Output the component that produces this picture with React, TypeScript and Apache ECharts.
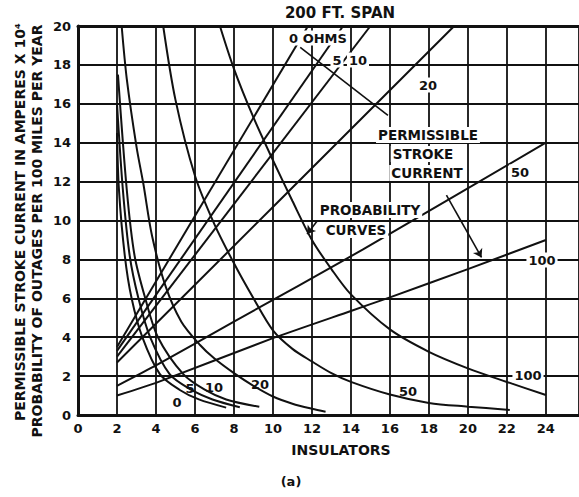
import React, { useEffect, useRef } from "react";
import * as echarts from "echarts";

// ---- axis ticks ----
const xTickValues = [0, 2, 4, 6, 8, 10, 12, 14, 16, 18, 20, 22, 24];
const yTickValues = [0, 2, 4, 6, 8, 10, 12, 14, 16, 18, 20];

// ---- permissible stroke current (amperes x 10^4) vs insulators ----
const psc0 = [[2, 3.5], [11.8, 20]];
const psc5 = [[2, 3.3], [13.6, 20]];
const psc10 = [[2, 3.0], [15.0, 20]];
const psc20 = [[2, 2.7], [10.36, 11.05], [19.3, 20]];
const psc50 = [[2, 1.5], [4, 2.55], [8, 4.8], [14.6, 8.5], [24, 14.0]];
const psc100 = [[2, 1.0], [4, 1.65], [10, 3.95], [14, 5.35], [16, 6.05], [20, 7.5], [24, 9.0]];

// ---- probability of outages per 100 miles per year ----
const prob0 = [[2, 14.5], [2.1, 11.6], [2.4, 8.2], [2.75, 6], [3.3, 4], [4.2, 2.1], [5.2, 1.3], [6.2, 0.8], [7.6, 0.38]];
const prob5 = [[2, 16], [2.3, 11.6], [2.65, 8.2], [3.1, 6], [3.7, 4], [4.7, 2.1], [5.8, 1.3], [6.9, 0.8], [8.3, 0.4]];
const prob10 = [[2.05, 17.5], [2.5, 11.6], [2.9, 8.2], [3.45, 6], [4.1, 4], [5.4, 2.1], [6.5, 1.3], [7.6, 0.8], [9.3, 0.42]];
const prob20 = [[2.24, 20], [2.5, 17.3], [3, 13.8], [3.35, 11.9], [3.8, 9.2], [4.5, 6.6], [5.3, 4.8], [6.26, 3.6], [7, 2.9], [8, 2.15], [9, 1.5], [10, 0.95], [11, 0.58], [12, 0.32], [12.7, 0.17]];
const prob50 = [[4.37, 20], [5, 16.2], [6, 12.3], [7, 9.8], [8, 7.8], [9, 6.0], [10, 4.35], [11, 3.4], [12, 2.75], [13, 2.15], [14, 1.7], [16, 1.05], [18, 0.62], [20, 0.43], [22.15, 0.26]];
const prob100 = [[7.28, 20], [8, 17.8], [9, 15.3], [10, 13.1], [11, 11.0], [12, 9.0], [13, 7.5], [14, 6.2], [16, 4.4], [18, 3.25], [20, 2.4], [22, 1.7], [24, 1.03]];

// ---- leader lines (data coordinates) ----
const leaderOhms = [[15.9, 15.4], [11.4, 18.9]];
const leaderPermissible = [[18.9, 11.3], [20.7, 8.1]];
const leaderProbability = [[12.25, 9.95], [11.75, 9.3]];

const INK = "#111";
const FONT = '"DejaVu Sans", "Liberation Sans", sans-serif';

function line(name: string, data: number[][], smooth: number | boolean) {
  return {
    name,
    type: "line",
    data,
    showSymbol: false,
    symbol: "none",
    smooth,
    lineStyle: { color: INK, width: 2 },
    z: 3,
  };
}
function leader(name: string, pts: number[][], arrow: boolean) {
  return {
    name,
    type: "line",
    data: [],
    markLine: {
      silent: true,
      symbol: arrow ? ["none", "arrow"] : ["none", "none"],
      symbolSize: 8,
      label: { show: false },
      lineStyle: { color: INK, width: 1.6, type: "solid" },
      data: [[{ coord: pts[0] }, { coord: pts[1] }]],
    },
    z: 4,
  };
}

function label(text: string, x: number, y: number, size = 13, bg = true) {
  return {
    type: "text",
    x,
    y,
    z: 20,
    style: {
      text,
      font: `bold ${size}px ${FONT}`,
      fill: INK,
      align: "center",
      verticalAlign: "middle",
      textAlign: "center",
      textVerticalAlign: "middle",
      backgroundColor: bg ? "#fff" : undefined,
      padding: bg ? [1, 2] : 0,
    },
  };
}

export default function App() {
  const ref = useRef<HTMLDivElement>(null);
  useEffect(() => {
    if (!ref.current) return;
    const chart = echarts.init(ref.current, null, { renderer: "svg" });
    const option: any = {
      animation: false,
      backgroundColor: "#fff",
      grid: { left: 78, top: 26, width: 501, height: 389, containLabel: false },
      xAxis: [
        {
          type: "value",
          min: 0,
          max: 25.7,
          interval: 2,
          axisLine: { show: true, lineStyle: { color: INK, width: 3 } },
          axisTick: { show: false },
          splitLine: { show: true, lineStyle: { color: INK, width: 1.8 } },
          axisLabel: {
            color: INK,
            fontFamily: FONT,
            fontWeight: "bold",
            fontSize: 13,
            margin: 7,
            showMaxLabel: false,
            formatter: (v: number) => (xTickValues.includes(v) ? String(v) : ""),
          },
        },
        {
          type: "value",
          position: "top",
          min: 0,
          max: 25.7,
          axisLine: { show: true, lineStyle: { color: INK, width: 3 } },
          axisTick: { show: false },
          axisLabel: { show: false },
          splitLine: { show: false },
        },
      ],
      yAxis: {
        type: "value",
        min: 0,
        max: 20,
        interval: 2,
        axisLine: { show: true, lineStyle: { color: INK, width: 3 } },
        axisTick: { show: false },
        splitLine: { show: true, lineStyle: { color: INK, width: 1.8 } },
        axisLabel: {
          color: INK,
          fontFamily: FONT,
          fontWeight: "bold",
          fontSize: 13,
          margin: 7,
          formatter: (v: number) => (yTickValues.includes(v) ? String(v) : ""),
        },
      },
      series: [
        line("PSC 0 ohms", psc0, false),
        line("PSC 5 ohms", psc5, false),
        line("PSC 10 ohms", psc10, false),
        line("PSC 20 ohms", psc20, false),
        line("PSC 50 ohms", psc50, 0.2),
        line("PSC 100 ohms", psc100, 0.2),
        line("Prob 0 ohms", prob0, 0.3),
        line("Prob 5 ohms", prob5, 0.3),
        line("Prob 10 ohms", prob10, 0.3),
        line("Prob 20 ohms", prob20, 0.3),
        line("Prob 50 ohms", prob50, 0.3),
        line("Prob 100 ohms", prob100, 0.3),
        leader("leader ohms", leaderOhms, false),
        leader("leader permissible", leaderPermissible, true),
        leader("leader probability", leaderProbability, true),
      ],
      graphic: [
        label("200 FT. SPAN", 340, 13, 15, false),
        {
          type: "text",
          x: 20,
          y: 222,
          rotation: Math.PI / 2,
          style: {
            text: "PERMISSIBLE STROKE CURRENT IN AMPERES X 10⁴",
            font: `bold 14px ${FONT}`,
            fill: INK,
            align: "center",
            verticalAlign: "middle",
            textAlign: "center",
            textVerticalAlign: "middle",
          },
        },
        {
          type: "text",
          x: 37,
          y: 231,
          rotation: Math.PI / 2,
          style: {
            text: "PROBABILITY OF OUTAGES PER 100 MILES PER YEAR",
            font: `bold 14px ${FONT}`,
            fill: INK,
            align: "center",
            verticalAlign: "middle",
            textAlign: "center",
            textVerticalAlign: "middle",
          },
        },
        label("INSULATORS", 341, 450, 14, false),
        label("(a)", 291, 481, 13, false),
        label("0 OHMS", 318, 38, 13),
        label("5", 337, 60, 13),
        label("10", 358, 60, 13),
        label("20", 428, 85, 13),
        label("PERMISSIBLE", 428, 135, 13.5),
        label("STROKE", 423, 154, 13.5),
        label("CURRENT", 427, 173, 13.5),
        label("50", 520, 172, 13),
        label("PROBABILITY", 370, 210, 13.5),
        label("CURVES", 356, 230, 13.5),
        label("100", 542, 260, 13),
        label("0", 177, 402, 13, false),
        label("5", 190, 388, 13, false),
        label("10", 214, 387, 13, false),
        label("20", 260, 384, 13, false),
        label("50", 408, 391, 13, false),
        label("100", 528, 375, 13),
      ],
    };
    chart.setOption(option);
    return () => chart.dispose();
  }, []);
  return (
    <div
      ref={ref}
      style={{ position: "fixed", left: 0, top: 0, width: 579, height: 497, background: "#fff" }}
    />
  );
}
